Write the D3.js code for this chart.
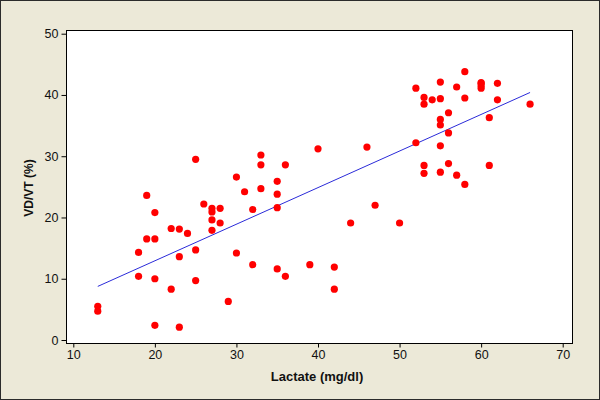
<!DOCTYPE html>
<html>
<head>
<meta charset="utf-8">
<script src="https://cdn.jsdelivr.net/npm/d3@7"></script>
<style>
  html, body { margin: 0; padding: 0; background: #ECE9D8; }
  svg { display: block; }
</style>
</head>
<body>
<svg id="chart" width="600" height="400"></svg>
<script>
// Data
const lactate = [13,13,18,18,19,19,20,20,20,20,22,22,23,23,23,24,25,25,25,26,27,27,27,27,28,28,29,30,30,31,32,32,33,33,33,35,35,35,35,36,36,39,40,42,42,44,46,47,50,52,52,53,53,53,53,54,55,55,55,55,55,55,56,56,56,57,57,58,58,58,60,60,60,60,61,61,62,62,66];
const vdvt =    [5.5,4.7,14.3,10.4,23.6,16.5,16.5,20.8,10.0,2.4,18.2,8.3,18.1,13.6,2.1,17.4,29.5,14.7,9.7,22.2,21.5,20.9,19.6,17.9,21.5,19.1,6.3,26.6,14.2,24.2,21.3,12.3,30.2,28.6,24.7,25.9,23.8,21.6,11.6,28.6,10.4,12.3,31.2,11.9,8.3,19.1,31.5,22.0,19.1,41.1,32.2,39.6,38.5,28.5,27.2,39.2,42.1,39.4,36.0,35.1,31.7,27.4,37.1,33.8,28.8,41.3,26.9,43.8,39.5,25.4,42.0,41.9,41.5,41.1,36.3,28.5,41.9,39.2,38.5];
const xTicks = [10,20,30,40,50,60,70];
const yTicks = [0,10,20,30,40,50];
const xTitle = "Lactate (mg/dl)";
const yTitle = "VD/VT (%)";

const W = 600, H = 400;
const box = {left: 66, top: 30, right: 572, bottom: 343};
const svg = d3.select("#chart");

svg.append("rect").attr("x", 0.5).attr("y", 0.5).attr("width", W - 1).attr("height", H - 1)
  .attr("fill", "#ECE9D8").attr("stroke", "#2b2b2b").attr("stroke-width", 1);

const x = d3.scaleLinear().domain([10, 70]).range([73.3, 562.7]);
const y = d3.scaleLinear().domain([0, 50]).range([340, 33.7]);

svg.append("rect").attr("x", box.left + 0.5).attr("y", box.top + 0.5)
  .attr("width", box.right - box.left).attr("height", box.bottom - box.top)
  .attr("fill", "#ffffff").attr("stroke", "#000").attr("stroke-width", 1);

const fontTick = "Arial, 'Liberation Sans', sans-serif";

// X axis
const xAxis = d3.axisBottom(x).tickValues(xTicks).tickSize(4).tickPadding(3).tickFormat(d3.format("d"));
const gx = svg.append("g").attr("transform", `translate(0,${box.bottom + 0.5})`).call(xAxis);
gx.select(".domain").remove();
gx.selectAll("line").attr("stroke", "#000");
gx.selectAll("text").attr("font-family", fontTick).attr("font-size", 12.5).attr("fill", "#111");

// Y axis
const yAxis = d3.axisLeft(y).tickValues(yTicks).tickSize(5).tickPadding(3).tickFormat(d3.format("d"));
const gy = svg.append("g").attr("transform", `translate(${box.left + 0.5},0)`).call(yAxis);
gy.select(".domain").remove();
gy.selectAll("line").attr("stroke", "#000");
gy.selectAll("text").attr("font-family", fontTick).attr("font-size", 12.5).attr("fill", "#111");

// Least squares fit line
const n = lactate.length;
const mx = d3.mean(lactate), my = d3.mean(vdvt);
let sxy = 0, sxx = 0;
for (let i = 0; i < n; i++) { sxy += (lactate[i]-mx)*(vdvt[i]-my); sxx += (lactate[i]-mx)**2; }
const slope = sxy / sxx, intercept = my - slope * mx;
const [x0, x1] = d3.extent(lactate);
svg.append("line")
  .attr("x1", x(x0)).attr("y1", y(intercept + slope * x0))
  .attr("x2", x(x1)).attr("y2", y(intercept + slope * x1))
  .attr("stroke", "#2b2bd9").attr("stroke-width", 1);

// Points
svg.append("g").selectAll("circle")
  .data(lactate.map((d, i) => [d, vdvt[i]]))
  .join("circle")
  .attr("cx", d => x(d[0])).attr("cy", d => y(d[1]))
  .attr("r", 3.6).attr("fill", "#ff0000");

// Titles
svg.append("text").attr("x", 317).attr("y", 381).attr("text-anchor", "middle")
  .attr("font-family", fontTick).attr("font-weight", "bold").attr("font-size", 13).attr("fill", "#111")
  .text(xTitle);
svg.append("text").attr("transform", "translate(33,188) rotate(-90)").attr("text-anchor", "middle")
  .attr("font-family", fontTick).attr("font-weight", "bold").attr("font-size", 12).attr("fill", "#111")
  .text(yTitle);
</script>
</body>
</html>
